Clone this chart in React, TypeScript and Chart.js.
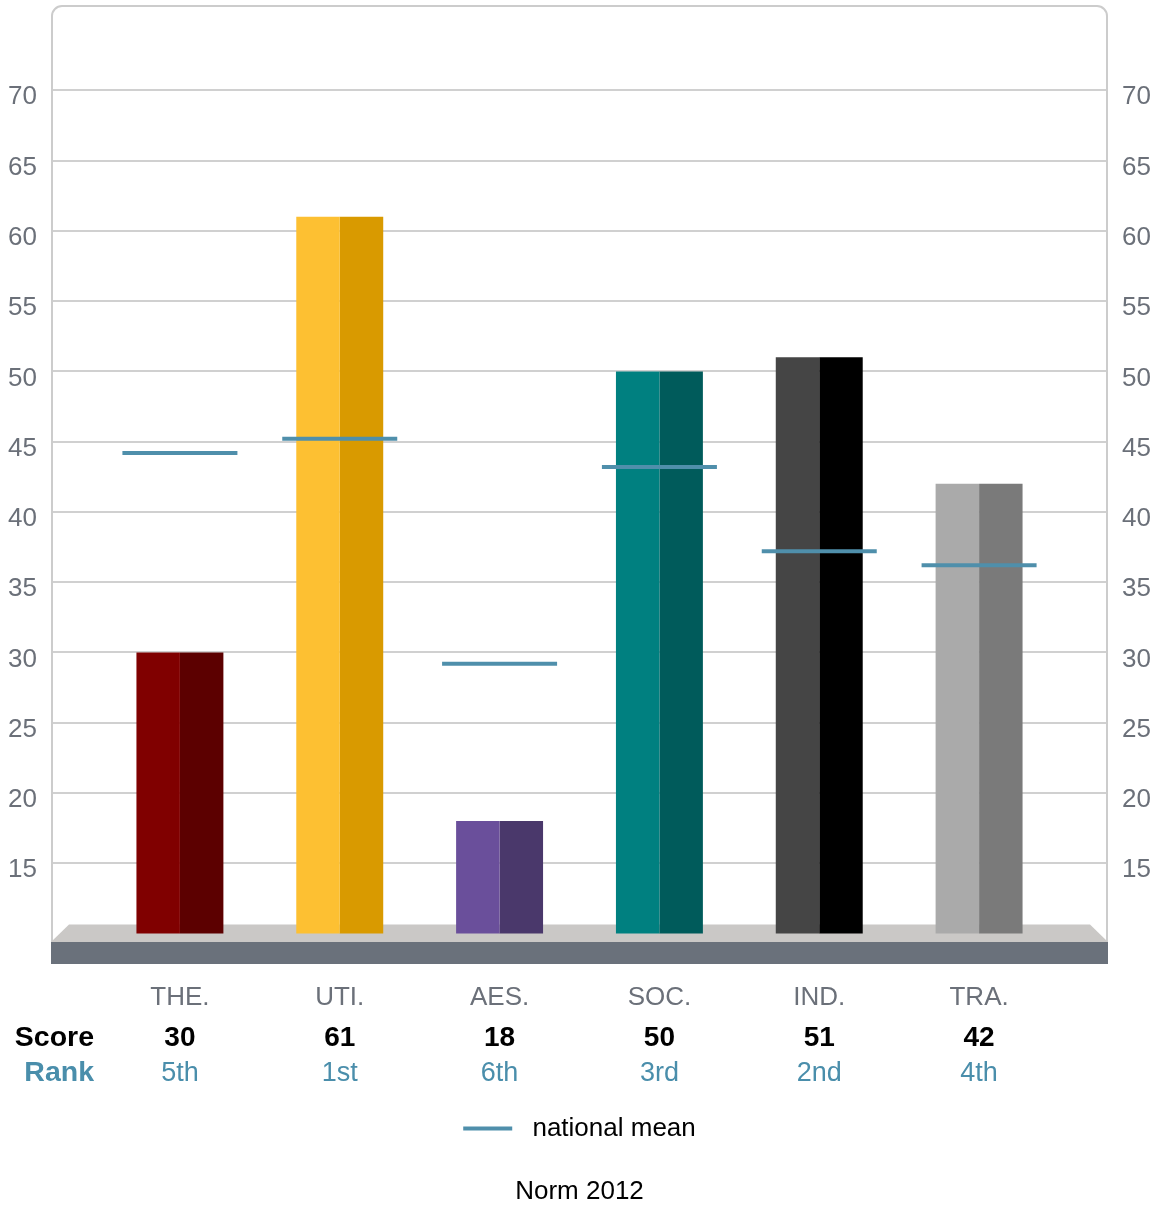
import React, { useEffect, useRef } from 'react';
import { Chart, registerables } from 'chart.js';

Chart.register(...registerables);

const categories = ['THE.', 'UTI.', 'AES.', 'SOC.', 'IND.', 'TRA.'];
const scores = [30, 61, 18, 50, 51, 42];
const ranks = ['5th', '1st', '6th', '3rd', '2nd', '4th'];
const nationalMean = [44.2, 45.2, 29.2, 43.2, 37.2, 36.2];
const lightColors = ['#800000', '#fdc032', '#6a4f9b', '#008080', '#454545', '#aaaaaa'];
const darkColors = ['#5c0000', '#d99a00', '#4a386b', '#005b5b', '#000000', '#7a7a7a'];
const rowHeaders = ['Score', 'Rank'];
const legendLabel = 'national mean';
const titleText = 'Norm 2012';

const Y_MIN = 10;
const Y_MAX = 76;
const Y_STEP = 5;
const LABEL_MIN = 15;
const LABEL_MAX = 70;

const FONT = "'Liberation Sans', Arial, sans-serif";
const GRAY_TEXT = '#6b7079';
const GRID = '#d0d0d0';
const MEAN_COLOR = '#4f8fab';
const RANK_COLOR = '#4a8eab';

const decorPlugin = {
  id: 'decor',
  beforeDatasetsDraw(chart: any) {
    const { ctx, chartArea } = chart;
    const { left, right, top, bottom } = chartArea;
    const L = left - 49;
    const R = right + 49;
    const r = 10;
    ctx.save();
    ctx.strokeStyle = '#cccccc';
    ctx.lineWidth = 2;
    ctx.beginPath();
    ctx.moveTo(L + 1, bottom + 9);
    ctx.lineTo(L + 1, top + r);
    ctx.arcTo(L + 1, top, L + 1 + r, top, r);
    ctx.lineTo(R - 1 - r, top);
    ctx.arcTo(R - 1, top, R - 1, top + r, r);
    ctx.lineTo(R - 1, bottom + 9);
    ctx.stroke();
    ctx.fillStyle = '#cac8c6';
    ctx.beginPath();
    ctx.moveTo(L + 18, bottom - 9);
    ctx.lineTo(R - 18, bottom - 9);
    ctx.lineTo(R, bottom + 8.5);
    ctx.lineTo(L, bottom + 8.5);
    ctx.closePath();
    ctx.fill();
    ctx.fillStyle = '#6a717b';
    ctx.fillRect(L, bottom + 8.5, R - L, 22);
    ctx.restore();
  },
};

const tablePlugin = {
  id: 'table',
  afterDraw(chart: any) {
    const { ctx, chartArea } = chart;
    const xs = chart.scales.x;
    const scoreY = chartArea.bottom + 104.5;
    const rankY = chartArea.bottom + 140;
    ctx.save();
    ctx.textBaseline = 'middle';
    ctx.textAlign = 'right';
    ctx.font = `bold 28.5px ${FONT}`;
    ctx.fillStyle = '#000000';
    ctx.fillText(rowHeaders[0], 94, scoreY);
    ctx.fillStyle = RANK_COLOR;
    ctx.fillText(rowHeaders[1], 94, rankY);
    ctx.textAlign = 'center';
    scores.forEach((s, i) => {
      const cx = xs.getPixelForValue(i);
      ctx.font = `bold 28px ${FONT}`;
      ctx.fillStyle = '#000000';
      ctx.fillText(String(s), cx, scoreY);
      ctx.font = `27px ${FONT}`;
      ctx.fillStyle = RANK_COLOR;
      ctx.fillText(ranks[i], cx, rankY);
    });
    ctx.restore();
  },
};

const yTickCallback = (v: any) => (v >= LABEL_MIN && v <= LABEL_MAX ? String(v) : '');
const gridColor = (c: any) =>
  c.tick && c.tick.value >= LABEL_MIN && c.tick.value <= LABEL_MAX ? GRID : 'rgba(0,0,0,0)';

const fitY = (s: any) => {
  s.width = 100;
  s.paddingTop = 0;
  s.paddingBottom = 0;
};

export default function App() {
  const ref = useRef<HTMLCanvasElement | null>(null);
  useEffect(() => {
    document.body.style.margin = '0';
    if (!ref.current) return;
    Chart.defaults.font.family = FONT;
    const chart = new Chart(ref.current, {
      type: 'bar',
      data: {
        labels: categories,
        datasets: [
          {
            type: 'line',
            label: legendLabel,
            data: nationalMean,
            showLine: false,
            pointStyle: 'line',
            pointRadius: 57.5,
            pointHoverRadius: 57.5,
            pointBorderWidth: 4,
            pointHoverBorderWidth: 4,
            pointBorderColor: MEAN_COLOR,
            pointBackgroundColor: MEAN_COLOR,
            borderColor: MEAN_COLOR,
            backgroundColor: MEAN_COLOR,
            order: 0,
          } as any,
          {
            type: 'bar',
            label: 'score-light',
            data: scores,
            backgroundColor: lightColors,
            borderWidth: 0,
            categoryPercentage: 0.544,
            barPercentage: 1,
            order: 1,
          },
          {
            type: 'bar',
            label: 'score-dark',
            data: scores,
            backgroundColor: darkColors,
            borderWidth: 0,
            categoryPercentage: 0.544,
            barPercentage: 1,
            order: 1,
          },
        ],
      },
      options: {
        animation: false,
        responsive: false,
        events: [],
        layout: { autoPadding: false, padding: { top: 6, left: 0, right: 0, bottom: 0 } },
        scales: {
          x: {
            type: 'category',
            offset: true,
            grid: { display: false, drawTicks: false, tickLength: 0 },
            border: { display: false },
            ticks: { color: GRAY_TEXT, font: { size: 26 }, padding: 49, autoSkip: false, maxRotation: 0 },
            afterFit: (s: any) => {
              s.height = 172;
            },
          },
          y: {
            type: 'linear',
            position: 'left',
            min: Y_MIN,
            max: Y_MAX,
            ticks: {
              stepSize: Y_STEP,
              padding: 14,
              color: GRAY_TEXT,
              font: { size: 26 },
              labelOffset: 7,
              autoSkip: false,
              callback: yTickCallback,
            },
            grid: { color: gridColor, lineWidth: 2, tickLength: 49, drawTicks: true },
            border: { display: false },
            afterFit: fitY,
          },
          y2: {
            type: 'linear',
            position: 'right',
            min: Y_MIN,
            max: Y_MAX,
            ticks: {
              stepSize: Y_STEP,
              padding: 14,
              color: GRAY_TEXT,
              font: { size: 26 },
              labelOffset: 7,
              autoSkip: false,
              callback: yTickCallback,
            },
            grid: { color: gridColor, lineWidth: 2, tickLength: 49, drawTicks: true, drawOnChartArea: false },
            border: { display: false },
            afterFit: fitY,
          },
        },
        plugins: {
          tooltip: { enabled: false },
          legend: {
            display: true,
            position: 'bottom',
            onClick: () => {},
            labels: {
              boxWidth: 49,
              boxHeight: 4,
              padding: 10,
              color: '#000000',
              font: { size: 26 },
              generateLabels: () => [
                {
                  text: ' ' + legendLabel,
                  fillStyle: MEAN_COLOR,
                  strokeStyle: MEAN_COLOR,
                  lineWidth: 0,
                  hidden: false,
                  datasetIndex: 0,
                } as any,
              ],
            },
          },
          title: {
            display: true,
            text: titleText,
            position: 'bottom',
            color: '#000000',
            font: { size: 26, weight: 'normal', lineHeight: 1 },
            padding: { top: 27.5, bottom: 0 },
          },
        },
      },
      plugins: [decorPlugin, tablePlugin],
    } as any);
    return () => chart.destroy();
  }, []);
  return <canvas ref={ref} width={1159} height={1205} style={{ display: 'block' }} />;
}
